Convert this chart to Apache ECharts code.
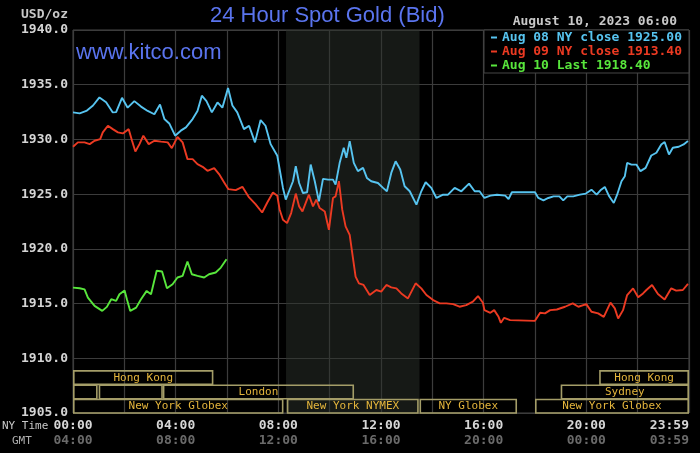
<!DOCTYPE html>
<html><head><meta charset="utf-8">
<script src="https://cdn.jsdelivr.net/npm/echarts@6/dist/echarts.min.js"></script>
<style>html,body{margin:0;padding:0;background:#000;}#c{width:700px;height:453px;}</style>
</head><body><div id="c"></div>
<script>
const seriesNames = ['Aug 08 NY close 1925.00', 'Aug 09 NY close 1913.40', 'Aug 10 Last 1918.40'];
const seriesColors = ['#57c4f0', '#ec3a22', '#58e63c'];

// [hour (NY time), price]
const aug08 = [[0,1932.47],[0.26,1932.38],[0.52,1932.6],[0.78,1933.1],[1.03,1933.84],[1.29,1933.4],[1.55,1932.47],[1.68,1932.5],[1.91,1933.8],[2.13,1932.9],[2.39,1933.5],[2.65,1933.0],[2.91,1932.6],[3.17,1932.3],[3.39,1933.2],[3.56,1931.86],[3.75,1931.46],[3.98,1930.34],[4.2,1930.8],[4.4,1931.1],[4.66,1931.86],[4.85,1932.6],[5.02,1934.0],[5.2,1933.5],[5.41,1932.47],[5.63,1933.38],[5.82,1932.9],[6.04,1934.7],[6.21,1933.1],[6.4,1932.47],[6.66,1930.94],[6.86,1931.25],[7.09,1929.73],[7.31,1931.77],[7.5,1931.25],[7.7,1929.57],[7.96,1928.5],[8.05,1927.3],[8.18,1925.57],[8.29,1924.5],[8.44,1925.4],[8.57,1926.18],[8.68,1927.55],[8.81,1926.02],[8.96,1925.1],[9.12,1925.17],[9.26,1927.7],[9.42,1926.18],[9.58,1924.34],[9.74,1926.39],[9.94,1926.33],[10.13,1926.33],[10.23,1925.87],[10.39,1927.86],[10.55,1929.24],[10.65,1928.32],[10.78,1929.85],[10.94,1927.86],[11.1,1927.1],[11.3,1927.4],[11.45,1926.48],[11.62,1926.18],[11.88,1926.02],[12.08,1925.57],[12.23,1925.26],[12.4,1926.94],[12.57,1928.0],[12.75,1927.25],[12.92,1925.72],[13.12,1925.26],[13.38,1924.04],[13.57,1925.26],[13.74,1926.09],[13.96,1925.57],[14.16,1924.65],[14.42,1924.95],[14.61,1924.95],[14.87,1925.57],[15.13,1925.26],[15.43,1925.96],[15.65,1925.26],[15.84,1925.26],[16.03,1924.65],[16.26,1924.86],[16.52,1924.95],[16.84,1924.86],[16.97,1924.56],[17.1,1925.17],[18.0,1925.17],[18.13,1924.65],[18.33,1924.43],[18.52,1924.65],[18.72,1924.8],[18.95,1924.8],[19.1,1924.43],[19.26,1924.8],[19.49,1924.8],[19.75,1924.95],[19.98,1925.05],[20.2,1925.41],[20.4,1924.95],[20.55,1925.35],[20.72,1925.66],[20.89,1924.8],[21.07,1924.19],[21.2,1924.95],[21.37,1926.18],[21.5,1926.64],[21.59,1927.86],[21.76,1927.7],[21.95,1927.7],[22.11,1927.1],[22.31,1927.4],[22.53,1928.53],[22.73,1928.78],[22.92,1929.54],[23.05,1929.76],[23.22,1928.62],[23.37,1929.24],[23.6,1929.33],[23.79,1929.54],[23.96,1929.85]];

const aug09 = [[0,1929.33],[0.19,1929.73],[0.45,1929.73],[0.65,1929.57],[0.84,1929.88],[1.06,1930.03],[1.16,1930.64],[1.36,1931.25],[1.55,1930.94],[1.75,1930.64],[1.94,1930.55],[2.17,1930.94],[2.3,1929.88],[2.43,1928.9],[2.59,1929.57],[2.74,1930.34],[2.95,1929.57],[3.17,1929.88],[3.43,1929.8],[3.69,1929.73],[3.85,1929.2],[4.07,1930.24],[4.27,1929.73],[4.46,1928.2],[4.66,1928.2],[4.85,1927.74],[5.05,1927.5],[5.24,1927.13],[5.5,1927.38],[5.69,1926.83],[5.89,1926.07],[6.05,1925.46],[6.34,1925.37],[6.6,1925.67],[6.86,1924.7],[7.11,1924.09],[7.37,1923.32],[7.57,1924.24],[7.79,1925.15],[7.96,1924.85],[8.05,1923.6],[8.18,1922.66],[8.34,1922.35],[8.5,1923.27],[8.68,1925.05],[8.81,1923.88],[8.94,1923.42],[9.19,1924.95],[9.35,1923.88],[9.48,1924.5],[9.61,1923.73],[9.81,1923.42],[9.97,1921.74],[10.13,1924.65],[10.23,1924.8],[10.36,1926.18],[10.49,1923.58],[10.62,1922.05],[10.78,1921.28],[10.88,1919.6],[11.01,1917.46],[11.14,1916.85],[11.32,1916.7],[11.56,1915.78],[11.82,1916.24],[12.01,1916.09],[12.21,1916.7],[12.4,1916.48],[12.6,1916.39],[12.79,1915.93],[13.05,1915.47],[13.35,1916.85],[13.57,1916.39],[13.77,1915.78],[14.03,1915.32],[14.29,1915.02],[14.55,1915.02],[14.81,1914.95],[15.06,1914.71],[15.32,1914.86],[15.58,1915.17],[15.78,1915.69],[15.97,1915.08],[16.03,1914.4],[16.26,1914.16],[16.41,1914.4],[16.58,1913.79],[16.67,1913.24],[16.8,1913.7],[17.03,1913.49],[18.0,1913.42],[18.2,1914.16],[18.39,1914.1],[18.59,1914.4],[18.85,1914.46],[19.17,1914.71],[19.47,1915.02],[19.69,1914.71],[20.0,1914.95],[20.2,1914.25],[20.46,1914.1],[20.68,1913.79],[20.94,1915.08],[21.11,1914.56],[21.24,1913.64],[21.43,1914.4],[21.59,1915.78],[21.82,1916.39],[22.02,1915.57],[22.21,1915.93],[22.34,1916.24],[22.56,1916.7],[22.79,1915.87],[23.05,1915.38],[23.31,1916.39],[23.5,1916.18],[23.76,1916.24],[23.96,1916.79]];

const aug10 = [[0,1916.46],[0.26,1916.4],[0.45,1916.3],[0.58,1915.55],[0.84,1914.79],[1.14,1914.33],[1.32,1914.7],[1.49,1915.4],[1.68,1915.24],[1.81,1915.85],[2.01,1916.2],[2.1,1915.4],[2.23,1914.33],[2.46,1914.63],[2.65,1915.4],[2.87,1916.16],[3.04,1915.85],[3.26,1918.0],[3.47,1917.93],[3.66,1916.4],[3.88,1916.77],[4.07,1917.38],[4.27,1917.53],[4.46,1918.84],[4.63,1917.68],[4.85,1917.53],[5.11,1917.38],[5.3,1917.68],[5.56,1917.84],[5.76,1918.29],[5.98,1919.05]];

const tickHours = [0, 4, 8, 12, 16, 20, 24];
const nyTickLabels = ['00:00', '04:00', '08:00', '12:00', '16:00', '20:00', '23:59'];
const gmtTickLabels = ['04:00', '08:00', '12:00', '16:00', '20:00', '00:00', '03:59'];

// trading sessions: name, start hour, end hour, row
const sessionNames = ['Hong Kong', 'Hong Kong', 'Sydney', '', 'London', 'Sydney', 'New York Globex', 'New York NYMEX', 'NY Globex', 'New York Globex'];
const sessionStart = [0, 20.5, 0, 1, 3.5, 19, 0, 8.33, 13.5, 18];
const sessionEnd = [5.47, 24, 0.96, 3.5, 10.95, 24, 8.2, 13.47, 17.3, 24];
const sessionRow = [0, 0, 1, 1, 1, 1, 2, 2, 2, 2];
const nymexStart = 8.3, nymexEnd = 13.5;

const mono = 'DejaVu Sans Mono';
const chart = echarts.init(document.getElementById('c'));
const rich = {};
seriesColors.forEach((c, i) => { rich['c' + i] = { color: c, fontFamily: mono, fontWeight: 'bold', fontSize: 13, lineHeight: 13 }; });

const lineSeries = [aug08, aug09, aug10].map((d, i) => ({
  name: seriesNames[i], type: 'line', data: d, showSymbol: false, symbol: 'none',
  lineStyle: { color: seriesColors[i], width: 1.9 }, itemStyle: { color: seriesColors[i] },
  z: 3 + (2 - i)
}));
lineSeries[0].markArea = {
  silent: true, itemStyle: { color: 'rgba(44,50,44,0.5)' },
  data: [[{ xAxis: nymexStart }, { xAxis: nymexEnd }]]
};

const sessionData = sessionStart.map((s, i) => [s, sessionEnd[i], sessionRow[i]]);

chart.setOption({
  animation: false,
  backgroundColor: '#000',
  title: [
    { text: '24 Hour Spot Gold (Bid)', left: 210, top: 5, padding: 0,
      textStyle: { color: '#5a74ee', fontFamily: 'Liberation Sans', fontSize: 22, fontWeight: 'normal' } },
    { text: 'www.kitco.com', left: 76, top: 42, padding: 0,
      textStyle: { color: '#5a74ee', fontFamily: 'Liberation Sans', fontSize: 22, fontWeight: 'normal' } },
    { text: 'August 10, 2023 06:00', right: 23, top: 15, padding: 0,
      textStyle: { color: '#c8c8c8', fontFamily: mono, fontSize: 13, fontWeight: 'bold' } },
    { text: 'USD/oz', left: 21, top: 8, padding: 0,
      textStyle: { color: '#c8c8c8', fontFamily: mono, fontSize: 13, fontWeight: 'bold' } }
  ],
  graphic: [
    { type: 'text', left: 2, top: 421, style: { text: 'NY Time', fill: '#c8c8c8', font: '11px "DejaVu Sans Mono"' } },
    { type: 'text', left: 12, top: 436, style: { text: 'GMT', fill: '#b0b0b0', font: '11px "DejaVu Sans Mono"' } }
  ],
  legend: {
    data: seriesNames, orient: 'vertical', right: 11, top: 30,
    icon: 'rect', itemWidth: 6, itemHeight: 2, itemGap: 1,
    padding: [1, 7, 1, 7], backgroundColor: '#000', borderColor: '#474747', borderWidth: 1,
    selectedMode: false,
    formatter: name => '{c' + seriesNames.indexOf(name) + '|' + name + '}',
    textStyle: { rich: rich, fontFamily: mono, fontSize: 13, fontWeight: 'bold', lineHeight: 13 }
  },
  grid: { left: 73, right: 11, top: 30, bottom: 40, show: true, borderColor: '#474747', borderWidth: 1, backgroundColor: 'transparent' },
  xAxis: {
    type: 'value', min: 0, max: 24, interval: 2,
    axisLine: { show: false }, axisTick: { show: false },
    splitLine: { show: true, lineStyle: { color: '#3c3c3c', width: 1.2 } },
    axisLabel: {
      margin: 5, showMaxLabel: true, showMinLabel: true, alignMaxLabel: 'right',
      formatter: v => {
        const i = tickHours.indexOf(v);
        if (i < 0) return '';
        return '{a|' + nyTickLabels[i] + '}\n{b|' + gmtTickLabels[i] + '}';
      },
      rich: {
        a: { color: '#d6d6d6', fontFamily: mono, fontWeight: 'bold', fontSize: 13, lineHeight: 15 },
        b: { color: '#6a6a6a', fontFamily: mono, fontWeight: 'bold', fontSize: 13, lineHeight: 15 }
      }
    }
  },
  yAxis: {
    type: 'value', min: 1905, max: 1940, interval: 5,
    axisLine: { show: false }, axisTick: { show: false },
    splitLine: { show: true, lineStyle: { color: '#3c3c3c', width: 1.2 } },
    axisLabel: { margin: 5, color: '#d4d4d4', fontFamily: mono, fontWeight: 'bold', fontSize: 13,
      formatter: v => v.toFixed(1) }
  },
  series: lineSeries.concat([{
    type: 'custom', name: 'sessions', data: sessionData, silent: true, z: 2,
    encode: { x: [0, 1], y: 2 },
    renderItem: (params, api) => {
      const s = api.value(0), e = api.value(1), row = api.value(2);
      const p0 = api.coord([s, 1905]);
      const p1 = api.coord([e, 1905]);
      const h = 14.3;
      const top = p0[1] - (3 - row) * h;
      const w = p1[0] - p0[0];
      const name = sessionNames[params.dataIndex];
      const fits = name.length * 6.7 + 4 < w;
      return {
        type: 'group',
        children: [
          { type: 'rect', shape: { x: p0[0] + 0.8, y: top + 0.8, width: w - 1.6, height: h - 0.8 },
            style: { fill: 'none', stroke: '#a49d68', lineWidth: 1.6 } },
          { type: 'text', invisible: !fits, style: { text: name, x: (p0[0] + p1[0]) / 2, y: top + h / 2 + 0.5,
            align: 'center', verticalAlign: 'middle', fill: '#e4b53c', font: '11px "DejaVu Sans Mono"' } }
        ]
      };
    }
  }])
});
</script></body></html>
